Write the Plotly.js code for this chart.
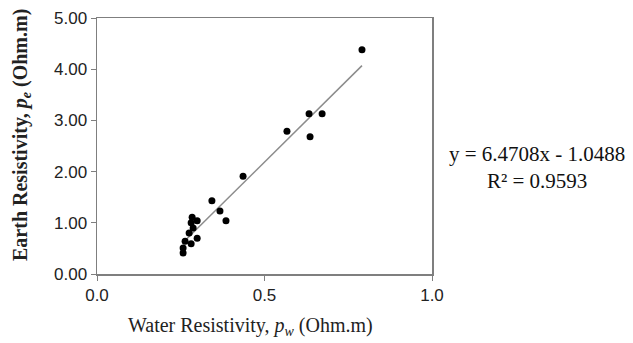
<!DOCTYPE html>
<html>
<head>
<meta charset="utf-8">
<script src="https://cdn.plot.ly/plotly-3.0.1.min.js"></script>
<style>html,body{margin:0;padding:0;background:#fff;}#chart{width:633px;height:343px;}</style>
</head>
<body>
<div id="chart"></div>
<script>
const waterRes = [0.284, 0.299, 0.281, 0.287, 0.275, 0.299, 0.263, 0.281, 0.257, 0.257,
                  0.343, 0.367, 0.385, 0.436, 0.567, 0.633, 0.672, 0.636, 0.791];
const earthRes = [1.11, 1.04, 1.00, 0.90, 0.80, 0.70, 0.64, 0.59, 0.51, 0.41,
                  1.43, 1.23, 1.04, 1.91, 2.79, 3.13, 3.13, 2.68, 4.38];
const slope = 6.4708, intercept = -1.0488, r2 = 0.9593;
const xTicks = [0, 0.5, 1.0];
const xTickLabels = ['0.0', '0.5', '1.0'];
const yTicks = [0, 1, 2, 3, 4, 5];
const yTickLabels = ['0.00', '1.00', '2.00', '3.00', '4.00', '5.00'];
const xTitle = 'Water Resistivity, <i>p</i><sub><i>w</i></sub> (Ohm.m)';
const yTitle = '<b>Earth Resistivity, <i>p</i><sub><i>e</i></sub> (Ohm.m)</b>';

const xmin = Math.min(...waterRes), xmax = Math.max(...waterRes);
const trendX = [xmin, xmax];
const trendY = trendX.map(v => slope * v + intercept);

const data = [
  {x: trendX, y: trendY, type: 'scatter', mode: 'lines',
   line: {color: '#8c8c8c', width: 1.5}, hoverinfo: 'skip'},
  {x: waterRes, y: earthRes, type: 'scatter', mode: 'markers',
   marker: {color: '#000', size: 7}}
];

const serif = 'Liberation Serif, Times New Roman, serif';
const sans = 'Liberation Sans, Arial, sans-serif';
const W = 633, H = 343, L = 97, R = 201, T = 18, B = 69;
const px = v => v / W;      // paper x from pixel
const py = v => 1 - (v - T) / (H - T - B) * 1; // not used directly

const layout = {
  width: W, height: H,
  margin: {l: L, r: R, t: T, b: B},
  paper_bgcolor: '#fff', plot_bgcolor: '#fff',
  showlegend: false,
  xaxis: {
    range: [0, 1], tickvals: xTicks, ticktext: xTickLabels,
    showgrid: false, zeroline: false, showline: true, linecolor: '#7f7f7f', linewidth: 1.5,
    mirror: true, ticks: 'outside', ticklen: 5, tickcolor: '#7f7f7f',
    tickfont: {family: sans, size: 17, color: '#222'}
  },
  yaxis: {
    range: [0, 5], tickvals: yTicks, ticktext: yTickLabels,
    showgrid: false, zeroline: false, showline: true, linecolor: '#7f7f7f', linewidth: 1.5,
    mirror: true, ticks: 'outside', ticklen: 5, tickcolor: '#7f7f7f',
    tickfont: {family: sans, size: 17, color: '#222'}
  },
  annotations: [
    {xref: 'paper', yref: 'paper', x: (250 - L) / (W - L - R), y: -(326 - (H - B)) / (H - T - B),
     xanchor: 'center', yanchor: 'middle', text: xTitle, showarrow: false,
     font: {family: serif, size: 20, color: '#222'}},
    {xref: 'paper', yref: 'paper', x: (21 - L) / (W - L - R), y: ((H - B) - 135) / (H - T - B),
     xanchor: 'center', yanchor: 'middle', textangle: -90, text: yTitle, showarrow: false,
     font: {family: serif, size: 20, color: '#222'}},
    {xref: 'paper', yref: 'paper', x: (537 - L) / (W - L - R), y: ((H - B) - 167) / (H - T - B),
     xanchor: 'center', yanchor: 'middle',
     text: 'y = ' + slope.toFixed(4) + 'x - ' + Math.abs(intercept).toFixed(4) + '<br>R² = ' + r2.toFixed(4),
     showarrow: false, align: 'center', font: {family: serif, size: 21, color: '#111'}}
  ]
};

Plotly.newPlot('chart', data, layout, {displayModeBar: false, staticPlot: true});
</script>
</body>
</html>
